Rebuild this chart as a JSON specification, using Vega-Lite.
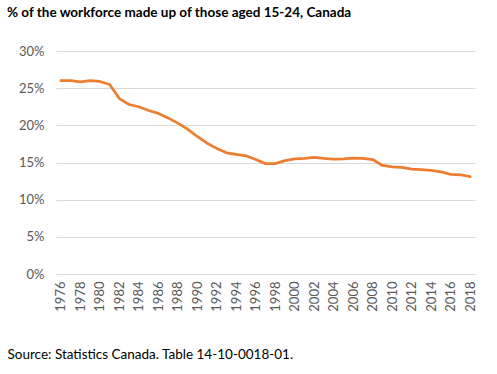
{
  "$schema": "https://vega.github.io/schema/vega-lite/v6.json",
  "autosize": "none",
  "width": 419,
  "height": 223,
  "padding": {"left": 56, "top": 51, "right": 22, "bottom": 100},
  "background": "white",
  "title": {
    "text": "% of the workforce made up of those aged 15-24, Canada",
    "anchor": "start",
    "frame": "group",
    "dx": -49,
    "offset": 26,
    "font": "Lato",
    "fontSize": 13.5,
    "fontWeight": "bold",
    "color": "#000000"
  },
  "config": {"view": {"stroke": null}},
  "data": {"values": [
    {"year": "1976", "pct": 26.0}, {"year": "1977", "pct": 26.0}, {"year": "1978", "pct": 25.85},
    {"year": "1979", "pct": 26.0}, {"year": "1980", "pct": 25.9}, {"year": "1981", "pct": 25.5},
    {"year": "1982", "pct": 23.6}, {"year": "1983", "pct": 22.8}, {"year": "1984", "pct": 22.5},
    {"year": "1985", "pct": 22.0}, {"year": "1986", "pct": 21.6}, {"year": "1987", "pct": 21.0},
    {"year": "1988", "pct": 20.3}, {"year": "1989", "pct": 19.5}, {"year": "1990", "pct": 18.5},
    {"year": "1991", "pct": 17.6}, {"year": "1992", "pct": 16.9}, {"year": "1993", "pct": 16.3},
    {"year": "1994", "pct": 16.1}, {"year": "1995", "pct": 15.9}, {"year": "1996", "pct": 15.4},
    {"year": "1997", "pct": 14.85}, {"year": "1998", "pct": 14.85}, {"year": "1999", "pct": 15.25},
    {"year": "2000", "pct": 15.5}, {"year": "2001", "pct": 15.55}, {"year": "2002", "pct": 15.7},
    {"year": "2003", "pct": 15.55}, {"year": "2004", "pct": 15.45}, {"year": "2005", "pct": 15.5},
    {"year": "2006", "pct": 15.6}, {"year": "2007", "pct": 15.55}, {"year": "2008", "pct": 15.4},
    {"year": "2009", "pct": 14.6}, {"year": "2010", "pct": 14.4}, {"year": "2011", "pct": 14.35},
    {"year": "2012", "pct": 14.1}, {"year": "2013", "pct": 14.05}, {"year": "2014", "pct": 13.95},
    {"year": "2015", "pct": 13.75}, {"year": "2016", "pct": 13.4}, {"year": "2017", "pct": 13.35},
    {"year": "2018", "pct": 13.1}
  ]},
  "mark": {"type": "line", "color": "#ED7D31", "strokeWidth": 2.75, "strokeCap": "round", "strokeJoin": "round"},
  "encoding": {
    "x": {
      "field": "year",
      "type": "ordinal",
      "scale": {"type": "point", "padding": 0.5},
      "axis": {
        "values": ["1976","1978","1980","1982","1984","1986","1988","1990","1992","1994","1996","1998","2000","2002","2004","2006","2008","2010","2012","2014","2016","2018"],
        "labelAngle": -90,
        "labelAlign": "right",
        "labelBaseline": "middle",
        "labelPadding": 7,
        "labelFont": "Lato",
        "labelFontSize": 13,
        "labelColor": "#595959",
        "ticks": false,
        "domain": false,
        "grid": false,
        "title": "Source: Statistics Canada. Table 14-10-0018-01.",
        "titleFont": "Lato",
        "titleFontSize": 13.5,
        "titleFontWeight": "normal",
        "titleColor": "#000000",
        "titleAnchor": "start",
        "titleAlign": "left",
        "titleBaseline": "alphabetic",
        "titleX": -49,
        "titleY": 84
      }
    },
    "y": {
      "field": "pct",
      "type": "quantitative",
      "scale": {"domain": [0, 30], "nice": false},
      "axis": {
        "values": [0, 5, 10, 15, 20, 25, 30],
        "labelExpr": "datum.value + '%'",
        "labelFont": "Lato",
        "labelFontSize": 13,
        "labelColor": "#595959",
        "labelPadding": 12,
        "ticks": false,
        "domain": false,
        "gridColor": "#d9d9d9",
        "gridWidth": 1,
        "title": null
      }
    }
  }
}
